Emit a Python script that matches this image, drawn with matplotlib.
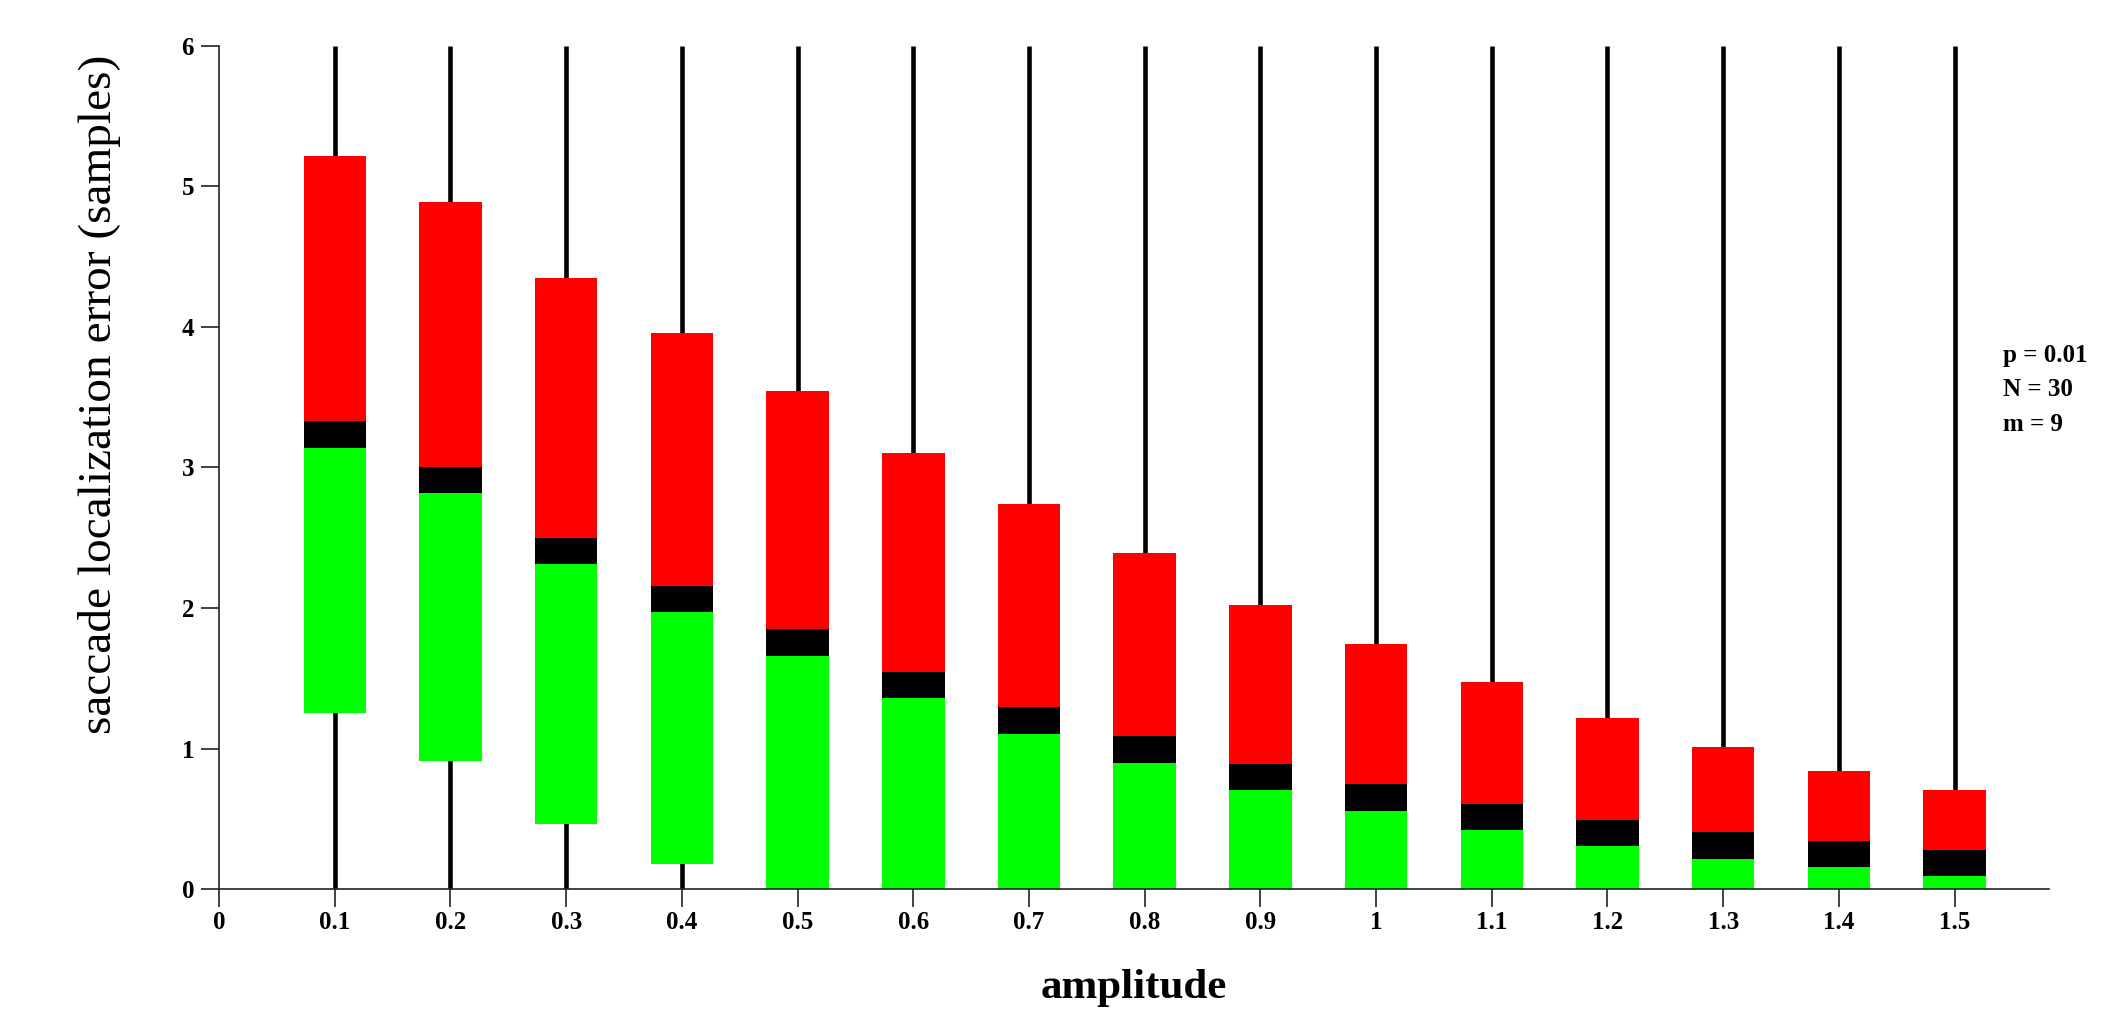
"""saccade localization error box chart"""

import matplotlib.pyplot as plt
import numpy as np

# amplitudes (box positions)
amplitude = [0.1, 0.2, 0.3, 0.4, 0.5, 0.6, 0.7, 0.8, 0.9, 1.0, 1.1, 1.2, 1.3, 1.4, 1.5]

# lower edge of the green part (lower quartile)
q_low = [1.25, 0.91, 0.46, 0.18, 0, 0, 0, 0, 0, 0, 0, 0, 0, 0, 0]
# black band around the median
med_low = [3.14, 2.82, 2.31, 1.975, 1.656, 1.357, 1.105, 0.90, 0.707, 0.555, 0.418, 0.304, 0.216, 0.154, 0.09]
med_high = [3.33, 3.00, 2.50, 2.16, 1.847, 1.543, 1.293, 1.092, 0.892, 0.745, 0.607, 0.493, 0.406, 0.344, 0.28]
# upper edge of the red part (upper quartile)
q_high = [5.22, 4.89, 4.35, 3.96, 3.543, 3.105, 2.74, 2.388, 2.02, 1.746, 1.471, 1.219, 1.008, 0.842, 0.707]
# whiskers (upper one runs off the top of the axis)
whisk_low = [0] * 15
whisk_high = [6.0] * 15

x_ticks = [0, 0.1, 0.2, 0.3, 0.4, 0.5, 0.6, 0.7, 0.8, 0.9, 1, 1.1, 1.2, 1.3, 1.4, 1.5]
x_ticklabels = ["0", "0.1", "0.2", "0.3", "0.4", "0.5", "0.6", "0.7", "0.8", "0.9",
                "1", "1.1", "1.2", "1.3", "1.4", "1.5"]
y_ticks = [0, 1, 2, 3, 4, 5, 6]

stats = ["p = 0.01", "N = 30", "m = 9"]

plt.rcParams['font.family'] = ['Liberation Serif', 'DejaVu Serif']

fig = plt.figure(figsize=(21.21, 10.13), dpi=100)
ax = fig.add_axes([0.1033, 0.1224, 0.8628, 0.8322])

x = np.array(amplitude)
w = 0.054
lo = np.array(q_low)
ml = np.array(med_low)
mh = np.array(med_high)
hi = np.array(q_high)

ax.vlines(x, whisk_low, whisk_high, colors='black', linewidth=3.3, zorder=1)
ax.bar(x, ml - lo, width=w, bottom=lo, color='#00ff00', zorder=2)
ax.bar(x, mh - ml, width=w, bottom=ml, color='black', zorder=2)
ax.bar(x, hi - mh, width=w, bottom=mh, color='#ff0000', zorder=2)

ax.set_xlim(0, 1.5817)
ax.set_ylim(0, 6)
ax.set_xticks(x_ticks)
ax.set_xticklabels(x_ticklabels)
ax.set_yticks(y_ticks)

for s in ['top', 'right']:
    ax.spines[s].set_visible(False)
for s in ['left', 'bottom']:
    ax.spines[s].set_linewidth(1.2)
    ax.spines[s].set_color('#222222')

ax.tick_params(direction='out', length=13, width=1.2, colors='#222222',
               labelcolor='black', labelsize=18)
ax.tick_params(axis='x', pad=3)
ax.tick_params(axis='y', pad=5)
for lab in ax.get_xticklabels() + ax.get_yticklabels():
    lab.set_fontweight('bold')

fig.text(100 / 2121, 1 - 394 / 1013, "saccade localization error (samples)",
         rotation=90, ha='center', va='center', fontsize=34)
fig.text(1134 / 2121, 1 - 998 / 1013, "amplitude", ha='center', va='baseline',
         fontsize=31, fontweight='bold')

for i, t in enumerate(stats):
    fig.text(2003 / 2121, 1 - (362 + 34.5 * i) / 1013, t, ha='left', va='baseline',
             fontsize=18, fontweight='bold')

fig.savefig("out.png", dpi=100)
